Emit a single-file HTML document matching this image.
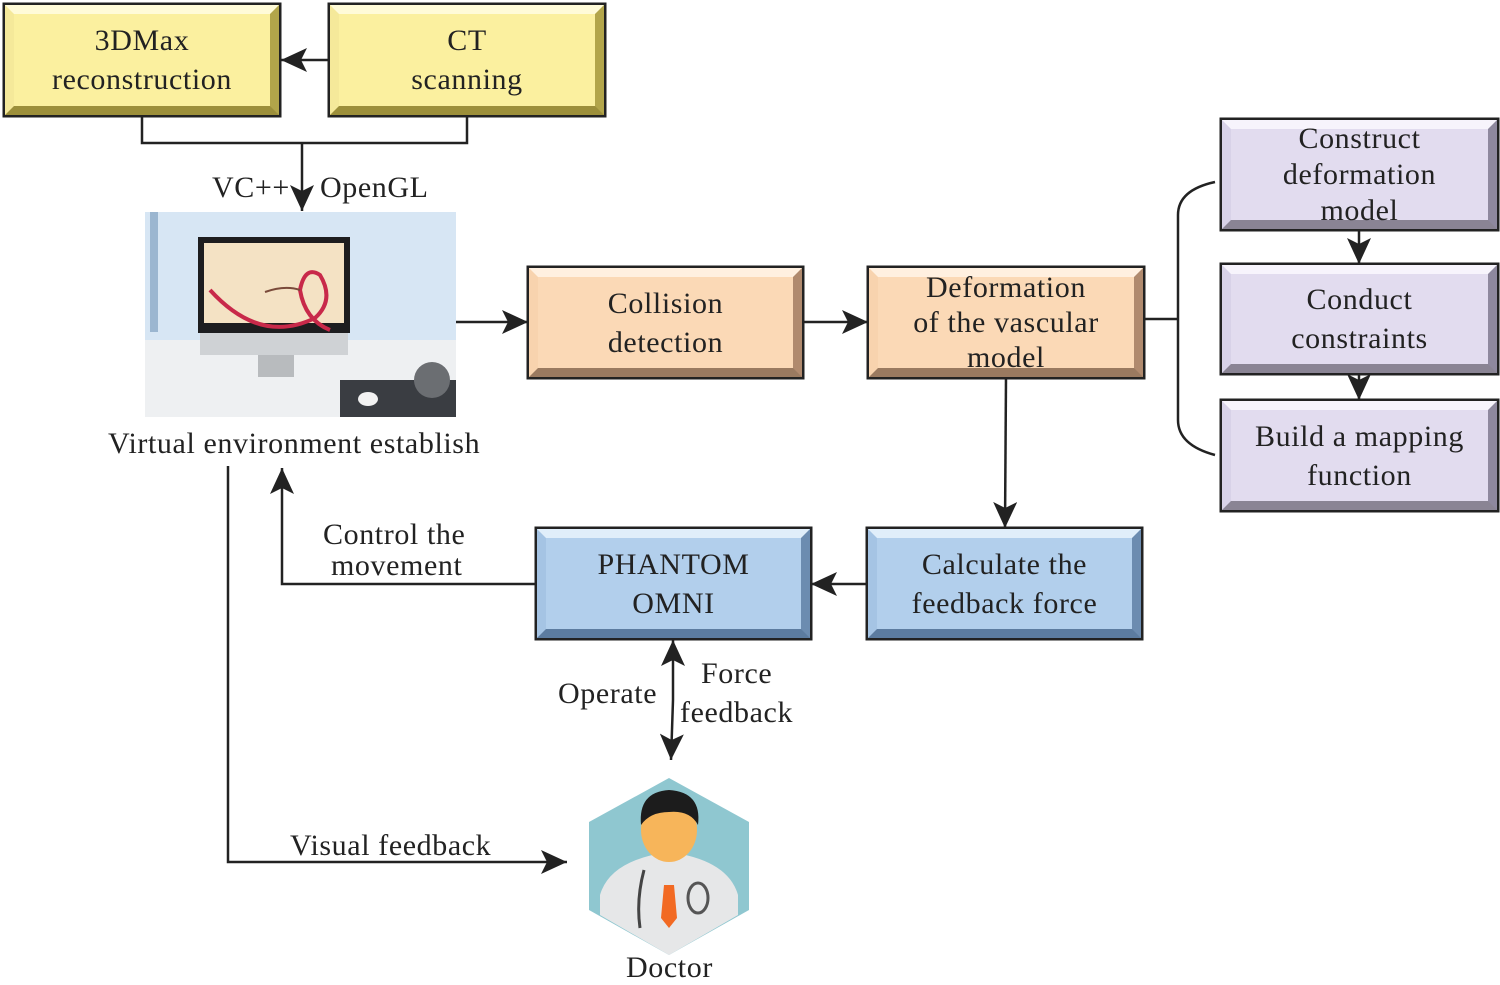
<!DOCTYPE html>
<html><head><meta charset="utf-8"><style>
body{margin:0;width:1500px;height:985px;background:#fff;position:relative;overflow:hidden;font-family:"Liberation Serif",serif;color:#222}
.b{position:absolute;box-sizing:border-box;border:9px solid;box-shadow:0 0 0 2.5px #222;display:flex;align-items:center;justify-content:center;text-align:center;font-size:30px;letter-spacing:0.6px;line-height:39px}
.y{background:#fbf09f;border-color:#fffbd8 #b2a54a #9c8f3a #f5e99a}
.p{background:#fbd9b6;border-color:#fff0e0 #b08a6e #9a7a60 #f8d3ae}
.v{background:#e2dcef;border-color:#f7f4fc #8e889e #8a8494 #d8d2e8}
.u{background:#b2cfec;border-color:#e0eefa #6c8cb0 #5c7ca0 #a5c4e4}
.t{position:absolute;font-size:30px;letter-spacing:0.6px;line-height:31px;text-align:center;white-space:nowrap}
</style></head><body>
<svg width="1500" height="985" style="position:absolute;left:0;top:0">
<defs>
<marker id="A" markerWidth="26" markerHeight="24" refX="26" refY="12" orient="auto" markerUnits="userSpaceOnUse"><path d="M0,0 L26,12 L0,24 L6,12 Z" fill="#222"/></marker></defs>
<g stroke="#222" stroke-width="2.5" fill="none">
<line x1="330" y1="60" x2="281" y2="60" marker-end="url(#A)"/>
<polyline points="142,115 142,143 467,143 467,115"/>
<line x1="302" y1="143" x2="302" y2="211" marker-end="url(#A)"/>
<line x1="456" y1="322" x2="528" y2="322" marker-end="url(#A)"/>
<line x1="802" y1="322" x2="868" y2="322" marker-end="url(#A)"/>
<line x1="1006" y1="377" x2="1005" y2="528" marker-end="url(#A)"/>
<line x1="868" y1="584" x2="811" y2="584" marker-end="url(#A)"/>
<polyline points="537,584 282,584 282,468" marker-end="url(#A)"/>
<line x1="673" y1="700" x2="673" y2="640" marker-end="url(#A)"/>
<line x1="673" y1="700" x2="671" y2="760" marker-end="url(#A)"/>
<polyline points="228,466 228,862 567,862" marker-end="url(#A)"/>
<line x1="1143" y1="319" x2="1178" y2="319"/>
<path d="M1215,182 Q1178,190 1178,215 L1178,420 Q1178,445 1215,455"/>
<line x1="1359" y1="229" x2="1359" y2="264" marker-end="url(#A)"/>
<line x1="1359" y1="373" x2="1359" y2="400" marker-end="url(#A)"/>
</g>
<rect x="145" y="212" width="311" height="205" fill="#c9dcee"/>
<rect x="145" y="212" width="311" height="130" fill="#d7e6f4"/>
<rect x="150" y="212" width="8" height="120" fill="#9bb6d0"/>
<rect x="145" y="340" width="311" height="77" fill="#eef0f2"/>
<rect x="340" y="380" width="116" height="37" fill="#3a3d42"/>
<rect x="198" y="237" width="152" height="96" fill="#1d1d1f"/>
<rect x="204" y="243" width="140" height="80" fill="#f4e2c4"/>
<rect x="200" y="333" width="148" height="22" fill="#cfd2d5"/>
<rect x="258" y="355" width="36" height="22" fill="#b8bbbe"/>
<path d="M210,290 Q260,345 315,318 Q335,300 320,275 Q305,265 300,290 Q305,320 330,330" stroke="#c8294a" stroke-width="4" fill="none"/>
<path d="M265,292 Q285,285 300,290" stroke="#7a4a3a" stroke-width="2" fill="none"/>
<ellipse cx="368" cy="399" rx="10" ry="7" fill="#f2f2f2"/>
<circle cx="432" cy="380" r="18" fill="#6b6e72"/>
<polygon points="669,778 749,822 749,910 669,955 589,910 589,822" fill="#8fc7d0"/>
<path d="M600,895 Q610,860 669,852 Q728,860 738,895 L738,915 L669,955 L600,915 Z" fill="#e6e7e8"/>
<rect x="659" y="840" width="20" height="20" fill="#f2a94a"/>
<ellipse cx="669" cy="830" rx="28" ry="32" fill="#f7b55a"/>
<path d="M641,825 Q638,792 669,790 Q702,792 698,825 Q690,810 669,812 Q650,812 641,825Z" fill="#1c1c1c"/>
<path d="M664,885 L674,885 L677,918 L669,928 L661,918Z" fill="#f26a23"/>
<path d="M644,870 Q636,900 640,928" stroke="#444" stroke-width="3" fill="none"/>
<ellipse cx="698" cy="898" rx="10" ry="15" stroke="#555" stroke-width="3" fill="none"/>
</svg>
<div class="b y" style="left:5px;top:5px;width:274px;height:110px">3DMax<br>reconstruction</div>
<div class="b y" style="left:330px;top:5px;width:274px;height:110px">CT<br>scanning</div>
<div class="b p" style="left:529px;top:268px;width:273px;height:109px">Collision<br>detection</div>
<div class="b p" style="left:869px;top:268px;width:274px;height:109px;line-height:35px">Deformation<br>of the vascular<br>model</div>
<div class="b v" style="left:1222px;top:120px;width:275px;height:109px;line-height:36px">Construct<br>deformation<br>model</div>
<div class="b v" style="left:1222px;top:265px;width:275px;height:108px">Conduct<br>constraints</div>
<div class="b v" style="left:1222px;top:401px;width:275px;height:109px">Build a mapping<br>function</div>
<div class="b u" style="left:537px;top:529px;width:273px;height:109px">PHANTOM<br>OMNI</div>
<div class="b u" style="left:868px;top:529px;width:273px;height:109px">Calculate the<br>feedback force</div>
<div class="t" style="left:212px;top:172px">VC++</div>
<div class="t" style="left:320px;top:172px">OpenGL</div>
<div class="t" style="left:108px;top:428px">Virtual environment establish</div>
<div class="t" style="left:323px;top:519px">Control the</div>
<div class="t" style="left:331px;top:550px">movement</div>
<div class="t" style="left:558px;top:678px">Operate</div>
<div class="t" style="left:701px;top:658px">Force</div>
<div class="t" style="left:680px;top:697px">feedback</div>
<div class="t" style="left:290px;top:830px">Visual feedback</div>
<div class="t" style="left:626px;top:952px">Doctor</div>
</body></html>
